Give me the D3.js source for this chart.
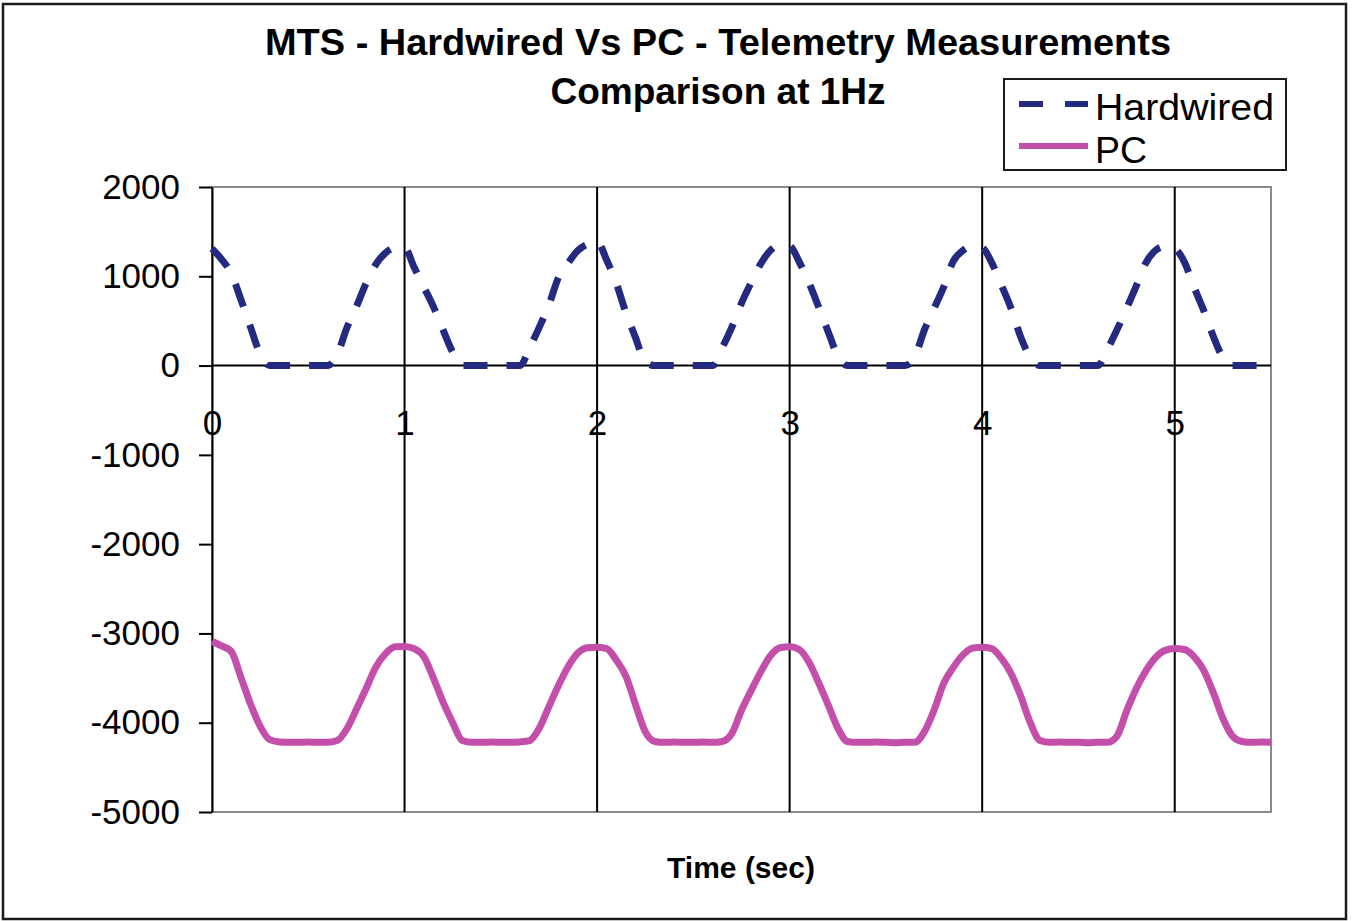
<!DOCTYPE html>
<html>
<head>
<meta charset="utf-8">
<script src="https://cdn.jsdelivr.net/npm/d3@7"></script>
<style>
  body { margin: 0; background: #fff; }
  svg { display: block; font-family: "Liberation Sans", Arial, sans-serif; }
</style>
</head>
<body>
<div id="chart"></div>
<script>
const timeStep = 0.05;
const hardwired = [
  1310, 1190, 1030, 740, 430, 130, 0, 0, 0, 0, 0, 0, 0, 120, 420, 660, 920, 1130, 1260, 1320,
  1320, 1100, 880, 660, 400, 150, 0, 0, 0, 0, 0, 0, 0, 200, 430, 680, 990, 1150, 1290, 1360,
  1390, 1180, 920, 590, 310, 40, 0, 0, 0, 0, 0, 0, 0, 200, 430, 700, 930, 1140, 1290, 1350,
  1340, 1160, 930, 660, 380, 110, 0, 0, 0, 0, 0, 0, 0, 100, 400, 640, 880, 1170, 1290, 1340,
  1320, 1150, 900, 640, 320, 90, 0, 0, 0, 0, 0, 0, 0, 180, 400, 640, 890, 1150, 1290, 1335,
  1310, 1160, 880, 620, 330, 90, 0, 0, 0, 0, 0
];
const pc = [
  -3090, -3140, -3200, -3490, -3790, -4040, -4190, -4215, -4220, -4220, -4215, -4220, -4220, -4200, -4070, -3850, -3620, -3380, -3230, -3150,
  -3145, -3170, -3260, -3500, -3770, -4000, -4200, -4220, -4220, -4215, -4220, -4220, -4215, -4200, -4060, -3820, -3580, -3370, -3220, -3160,
  -3155, -3170, -3300, -3480, -3800, -4100, -4210, -4220, -4215, -4220, -4220, -4215, -4220, -4210, -4120, -3860, -3640, -3430, -3250, -3160,
  -3150, -3180, -3320, -3550, -3800, -4060, -4210, -4220, -4220, -4215, -4220, -4225, -4220, -4220, -4100, -3860, -3560, -3380, -3240, -3165,
  -3155, -3170, -3280, -3450, -3700, -4000, -4200, -4220, -4215, -4220, -4220, -4225, -4220, -4220, -4150, -3870, -3620, -3420, -3270, -3190,
  -3170, -3180, -3260, -3410, -3660, -3950, -4150, -4210, -4220, -4215, -4220
];
const xTicks = [0, 1, 2, 3, 4, 5];
const yTicks = [2000, 1000, 0, -1000, -2000, -3000, -4000, -5000];
const titleLines = ["MTS - Hardwired Vs PC - Telemetry Measurements", "Comparison at 1Hz"];
const seriesNames = ["Hardwired", "PC"];

const W = 1353, H = 921;
const svg = d3.select('#chart').append('svg').attr('width', W).attr('height', H);

// outer frame
svg.append('rect').attr('x', 3).attr('y', 4).attr('width', 1343).attr('height', 915)
  .attr('fill', 'none').attr('stroke', '#1a1a1a').attr('stroke-width', 2.5);

const x = d3.scaleLinear().domain([0, 5.5]).range([212, 1271]);
const y = d3.scaleLinear().domain([-5000, 2000]).range([812, 187]);

// plot frame (gray)
svg.append('rect').attr('x', x(0)).attr('y', y(2000))
  .attr('width', x(5.5) - x(0)).attr('height', y(-5000) - y(2000))
  .attr('fill', 'none').attr('stroke', '#8a8a8a').attr('stroke-width', 2);

// vertical gridlines
svg.append('g').selectAll('line').data(xTicks.filter(d => d > 0)).enter().append('line')
  .attr('x1', d => x(d)).attr('x2', d => x(d))
  .attr('y1', y(2000)).attr('y2', y(-5000))
  .attr('stroke', '#000').attr('stroke-width', 2);

// zero line
svg.append('line').attr('x1', x(0)).attr('x2', x(5.5)).attr('y1', y(0)).attr('y2', y(0))
  .attr('stroke', '#000').attr('stroke-width', 2);

// y axis
const yAxis = svg.append('g').attr('transform', `translate(${x(0)},0)`)
  .call(d3.axisLeft(y).tickValues(yTicks).tickSize(13).tickSizeOuter(0).tickPadding(19).tickFormat(d => String(d)));
yAxis.select('.domain').attr('stroke', '#000').attr('stroke-width', 2);
yAxis.selectAll('.tick line').attr('stroke', '#000').attr('stroke-width', 2);
yAxis.selectAll('.tick text').attr('font-size', 35).attr('fill', '#000')
  .attr('font-family', '"Liberation Sans", Arial, sans-serif');

// x tick labels along the zero line
const xAxis = svg.append('g').attr('transform', `translate(0,${y(0)})`)
  .call(d3.axisBottom(x).tickValues(xTicks).tickSize(0).tickPadding(45).tickFormat(d => String(d)));
xAxis.select('.domain').remove();
xAxis.selectAll('.tick text').attr('font-size', 35).attr('fill', '#000')
  .attr('font-family', '"Liberation Sans", Arial, sans-serif');

// series
const line = d3.line().x((d, i) => x(i * timeStep)).y(d => y(d)).curve(d3.curveMonotoneX);

svg.append('path').datum(pc).attr('d', line)
  .attr('fill', 'none').attr('stroke', '#c44fab').attr('stroke-width', 7)
  .attr('stroke-linejoin', 'round');

svg.append('path').datum(hardwired).attr('d', line)
  .attr('fill', 'none').attr('stroke', '#232a80').attr('stroke-width', 7)
  .attr('stroke-dasharray', '24,19');

// title
svg.append('text').attr('x', 718).attr('y', 55).attr('text-anchor', 'middle')
  .attr('font-size', 37).attr('font-weight', 'bold')
  .attr('textLength', 906).attr('lengthAdjust', 'spacingAndGlyphs').text(titleLines[0]);
svg.append('text').attr('x', 718).attr('y', 104).attr('text-anchor', 'middle')
  .attr('font-size', 37).attr('font-weight', 'bold').text(titleLines[1]);

// x axis title
svg.append('text').attr('x', 741).attr('y', 878).attr('text-anchor', 'middle')
  .attr('font-size', 30).attr('font-weight', 'bold').text('Time (sec)');

// legend
const legend = svg.append('g');
legend.append('rect').attr('x', 1004).attr('y', 79).attr('width', 282).attr('height', 91)
  .attr('fill', '#fff').attr('stroke', '#1a1a1a').attr('stroke-width', 2);
legend.append('line').attr('x1', 1019).attr('x2', 1088).attr('y1', 104).attr('y2', 104)
  .attr('stroke', '#232a80').attr('stroke-width', 6).attr('stroke-dasharray', '24,22');
legend.append('line').attr('x1', 1019).attr('x2', 1088).attr('y1', 146).attr('y2', 146)
  .attr('stroke', '#c44fab').attr('stroke-width', 6);
legend.append('text').attr('x', 1095).attr('y', 120).attr('font-size', 36)
  .attr('textLength', 179).attr('lengthAdjust', 'spacingAndGlyphs').text(seriesNames[0]);
legend.append('text').attr('x', 1095).attr('y', 163).attr('font-size', 36)
  .attr('textLength', 52).attr('lengthAdjust', 'spacingAndGlyphs').text(seriesNames[1]);
</script>
</body>
</html>
